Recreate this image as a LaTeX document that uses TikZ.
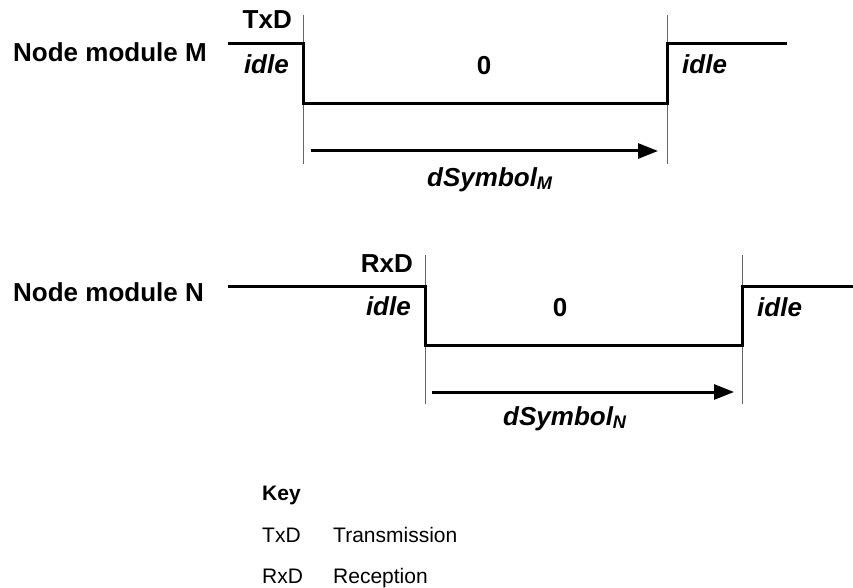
\documentclass[tikz,border=0pt]{standalone}
\usepackage{fontspec}
\setmainfont{Liberation Sans}
\usetikzlibrary{arrows.meta}
\begin{document}
\begin{tikzpicture}[x=1pt,y=-1pt,
  lbl/.style={inner sep=0pt,font=\fontsize{26}{30}\selectfont\bfseries},
  ilbl/.style={inner sep=0pt,font=\fontsize{26}{30}\selectfont\bfseries\itshape},
  keytxt/.style={inner sep=0pt,font=\fontsize{21}{25}\selectfont},
  keyhead/.style={inner sep=0pt,font=\fontsize{21}{25}\selectfont\bfseries},
  sig/.style={line width=3pt,line join=miter},
  guide/.style={line width=1pt,black!60},
  dur/.style={line width=3pt,-{Triangle[length=20pt,width=15pt]}}]
\useasboundingbox (0,0) rectangle (853,588);

% ---------- Node module M ----------
\node[lbl,anchor=base west] (nameM) at (13,62) {Node module M};
\coordinate (mA) at (228,44);
\coordinate (mB) at (303,44);
\coordinate (mC) at (303,104);
\coordinate (mD) at (667,104);
\coordinate (mE) at (667,44);
\coordinate (mF) at (787,44);
\coordinate (gM1t) at (303,15);
\coordinate (gM1b) at (303,164);
\coordinate (gM2t) at (667,15);
\coordinate (gM2b) at (667,164);
\coordinate (arMs) at (311,151);
\coordinate (arMe) at (658,151);
\draw[guide] (gM1t) -- (gM1b);
\draw[guide] (gM2t) -- (gM2b);
\draw[sig] (mA) -- (mB) -- (mC) -- (mD) -- (mE) -- (mF);
\draw[dur] (arMs) -- (arMe);
\node[lbl,anchor=base east] (txd) at (292,29) {TxD};
\node[ilbl,anchor=base east] (idleM1) at (289,74) {idle};
\node[lbl,anchor=base] (zeroM) at (484,75) {0};
\node[ilbl,anchor=base west] (idleM2) at (682,74) {idle};
\node[ilbl,anchor=base west] (dsM) at (427,186) {dSymbol\textsubscript{M}};

% ---------- Node module N ----------
\node[lbl,anchor=base west] (nameN) at (13,301) {Node module N};
\coordinate (nA) at (228,286);
\coordinate (nB) at (425,286);
\coordinate (nC) at (425,345);
\coordinate (nD) at (742,345);
\coordinate (nE) at (742,286);
\coordinate (nF) at (853,286);
\coordinate (gN1t) at (425,255);
\coordinate (gN1b) at (425,404);
\coordinate (gN2t) at (742,255);
\coordinate (gN2b) at (742,404);
\coordinate (arNs) at (432,392);
\coordinate (arNe) at (734,392);
\draw[guide] (gN1t) -- (gN1b);
\draw[guide] (gN2t) -- (gN2b);
\draw[sig] (nA) -- (nB) -- (nC) -- (nD) -- (nE) -- (nF);
\draw[dur] (arNs) -- (arNe);
\node[lbl,anchor=base east] (rxd) at (413,272) {RxD};
\node[ilbl,anchor=base east] (idleN1) at (411,315) {idle};
\node[lbl,anchor=base] (zeroN) at (560,316) {0};
\node[ilbl,anchor=base west] (idleN2) at (757,316) {idle};
\node[ilbl,anchor=base west] (dsN) at (503,425) {dSymbol\textsubscript{N}};

% ---------- Key ----------
\node[keyhead,anchor=base west] (key) at (262,500) {Key};
\node[keytxt,anchor=base west] (k1a) at (262,542) {TxD};
\node[keytxt,anchor=base west] (k1b) at (333,542) {Transmission};
\node[keytxt,anchor=base west] (k2a) at (262,583) {RxD};
\node[keytxt,anchor=base west] (k2b) at (333,583) {Reception};
\end{tikzpicture}
\end{document}
